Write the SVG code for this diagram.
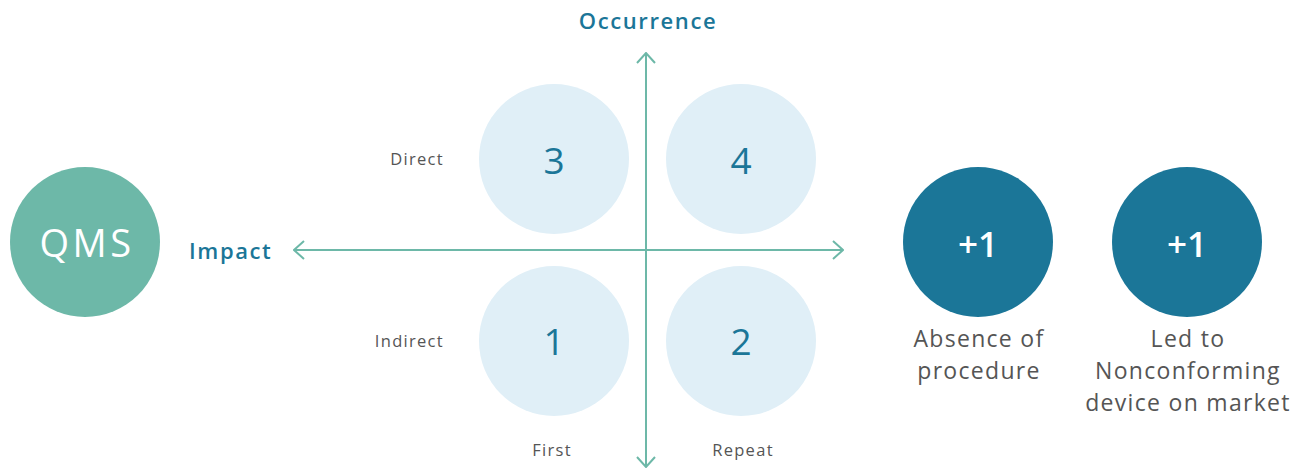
<svg xmlns="http://www.w3.org/2000/svg" width="1304" height="469" viewBox="0 0 1304 469">
  <defs>
    <style>
      .axis { stroke: #6db8a8; stroke-width: 2; fill: none; }
      .axis-title { font-family: "Open Sans", "Liberation Sans", sans-serif; font-weight: 600; font-size: 22px; letter-spacing: 1.6px; fill: #1b7698; }
      .tick { font-family: "Open Sans", "Liberation Sans", sans-serif; font-size: 16.5px; letter-spacing: 1.3px; fill: #555; }
      .quad { fill: #e0eff7; }
      .quad-num { font-family: "Open Sans", "Liberation Sans", sans-serif; font-size: 37px; fill: #1b7698; text-anchor: middle; }
      .bonus { fill: #1b7698; }
      .bonus-num { font-family: "Open Sans", "Liberation Sans", sans-serif; font-weight: 600; font-size: 35px; fill: #fff; text-anchor: middle; }
      .caption { font-family: "Open Sans", "Liberation Sans", sans-serif; font-size: 23px; letter-spacing: 1.3px; fill: #555; text-anchor: middle; }
    </style>
    <marker id="chev" viewBox="0 0 12 20" refX="11" refY="10" markerWidth="12" markerHeight="20" markerUnits="userSpaceOnUse" orient="auto-start-reverse">
      <path d="M1 1 L11 10 L1 19" fill="none" stroke="#6db8a8" stroke-width="2"/>
    </marker>
  </defs>
  <rect width="1304" height="469" fill="#fff"/>

  <g id="connectors">
    <line class="axis" x1="646" y1="53" x2="646" y2="467" marker-start="url(#chev)" marker-end="url(#chev)"/>
    <line class="axis" x1="294" y1="250" x2="843" y2="250" marker-start="url(#chev)" marker-end="url(#chev)"/>
  </g>

  <g id="axis-labels">
    <text class="axis-title" x="648" y="29" text-anchor="middle">Occurrence</text>
    <text class="axis-title" x="189" y="259">Impact</text>
    <text class="tick" x="444" y="165" text-anchor="end">Direct</text>
    <text class="tick" x="444" y="347" text-anchor="end">Indirect</text>
    <text class="tick" x="552" y="456" text-anchor="middle">First</text>
    <text class="tick" x="743" y="456" text-anchor="middle">Repeat</text>
  </g>

  <g id="qms">
    <circle cx="85" cy="242" r="75" fill="#6db8a8"/>
    <text x="87" y="257" font-family="Open Sans, Liberation Sans, sans-serif" font-size="38" letter-spacing="3.5" fill="#fff" text-anchor="middle">QMS</text>
  </g>

  <g id="q3">
    <circle class="quad" cx="554" cy="159" r="75"/>
    <text class="quad-num" x="554" y="174">3</text>
  </g>
  <g id="q4">
    <circle class="quad" cx="741" cy="159" r="75"/>
    <text class="quad-num" x="741" y="174">4</text>
  </g>
  <g id="q1">
    <circle class="quad" cx="554" cy="341" r="75"/>
    <text class="quad-num" x="554" y="355">1</text>
  </g>
  <g id="q2">
    <circle class="quad" cx="741" cy="341" r="75"/>
    <text class="quad-num" x="741" y="355">2</text>
  </g>

  <g id="absence">
    <circle class="bonus" cx="978" cy="242" r="75"/>
    <text class="bonus-num" x="978" y="257">+1</text>
    <text class="caption" x="979" y="347">Absence of</text>
    <text class="caption" x="979" y="379">procedure</text>
  </g>

  <g id="nonconforming">
    <circle class="bonus" cx="1187" cy="242" r="75"/>
    <text class="bonus-num" x="1187" y="257">+1</text>
    <text class="caption" x="1188" y="347">Led to</text>
    <text class="caption" x="1188" y="379">Nonconforming</text>
    <text class="caption" x="1188" y="411">device on market</text>
  </g>
</svg>
